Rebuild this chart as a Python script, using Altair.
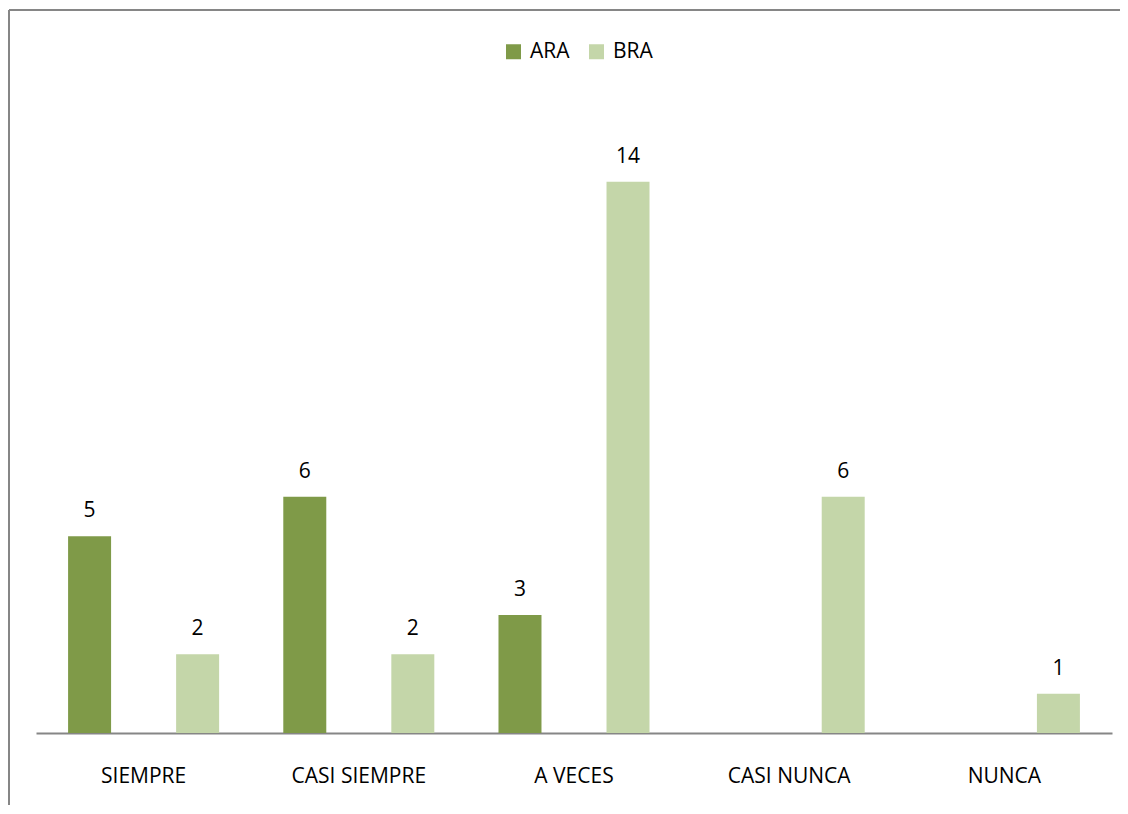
import altair as alt
import pandas as pd

categories = ["SIEMPRE", "CASI SIEMPRE", "A VECES", "CASI NUNCA", "NUNCA"]
series = ["ARA", "BRA"]
ara = [5, 6, 3, None, None]
bra = [2, 2, 14, 6, 1]
colors = ["#7f9a48", "#c4d6a9"]

rows = []
for c, a, b in zip(categories, ara, bra):
    if a is not None:
        rows.append({"cat": c, "serie": "ARA", "val": a})
    if b is not None:
        rows.append({"cat": c, "serie": "BRA", "val": b})
df = pd.DataFrame(rows)

FONT = "Open Sans"
FS = 21
W, H = 1076, 630

x = alt.X("cat:N", sort=categories, title=None,
          scale=alt.Scale(paddingInner=0, paddingOuter=0),
          axis=alt.Axis(domainColor="#868686", domainWidth=2, ticks=False,
                        labelAngle=0, labelFont=FONT, labelFontSize=FS,
                        labelColor="#000000", labelPadding=32, grid=False))
xo = alt.XOffset("serie:N", sort=series,
                 scale=alt.Scale(paddingInner=0.602, paddingOuter=0.297))
y = alt.Y("val:Q", scale=alt.Scale(domain=[0, 16], nice=False), axis=None)

bars = alt.Chart(df).mark_bar().encode(
    x=x, xOffset=xo, y=y,
    color=alt.Color("serie:N", sort=series,
                    scale=alt.Scale(domain=series, range=colors),
                    legend=alt.Legend(title=None, orient="none", direction="horizontal",
                                      legendX=467, legendY=-62,
                                      symbolType="square", symbolSize=225,
                                      symbolStrokeWidth=0, labelFont=FONT,
                                      labelFontSize=FS, labelColor="#000000",
                                      columnPadding=16, symbolOffset=0,
                                      labelOffset=6)),
)

texts = alt.Chart(df).mark_text(baseline="alphabetic", dy=-19, font=FONT,
                                fontSize=FS, color="#000000").encode(
    x=x, xOffset=xo, y=y, text="val:Q")

border_left = alt.Chart(df).mark_rule(color="#868686", strokeWidth=2).encode(
    x=alt.value(-27), y=alt.value(-93), y2=alt.value(H + 90))
border_top = alt.Chart(df).mark_rule(color="#868686", strokeWidth=2).encode(
    x=alt.value(-27), x2=alt.value(W + 20), y=alt.value(-93))

chart = alt.layer(border_left, border_top, bars, texts).properties(
    width=W, height=H,
    background="#ffffff",
    autosize=alt.AutoSizeParams(type="none"),
    padding={"left": 28, "top": 95, "right": 8, "bottom": 72},
).configure_view(strokeWidth=0, stroke="transparent")

chart.save("out.html", embed_options={"renderer": "svg", "actions": False})
